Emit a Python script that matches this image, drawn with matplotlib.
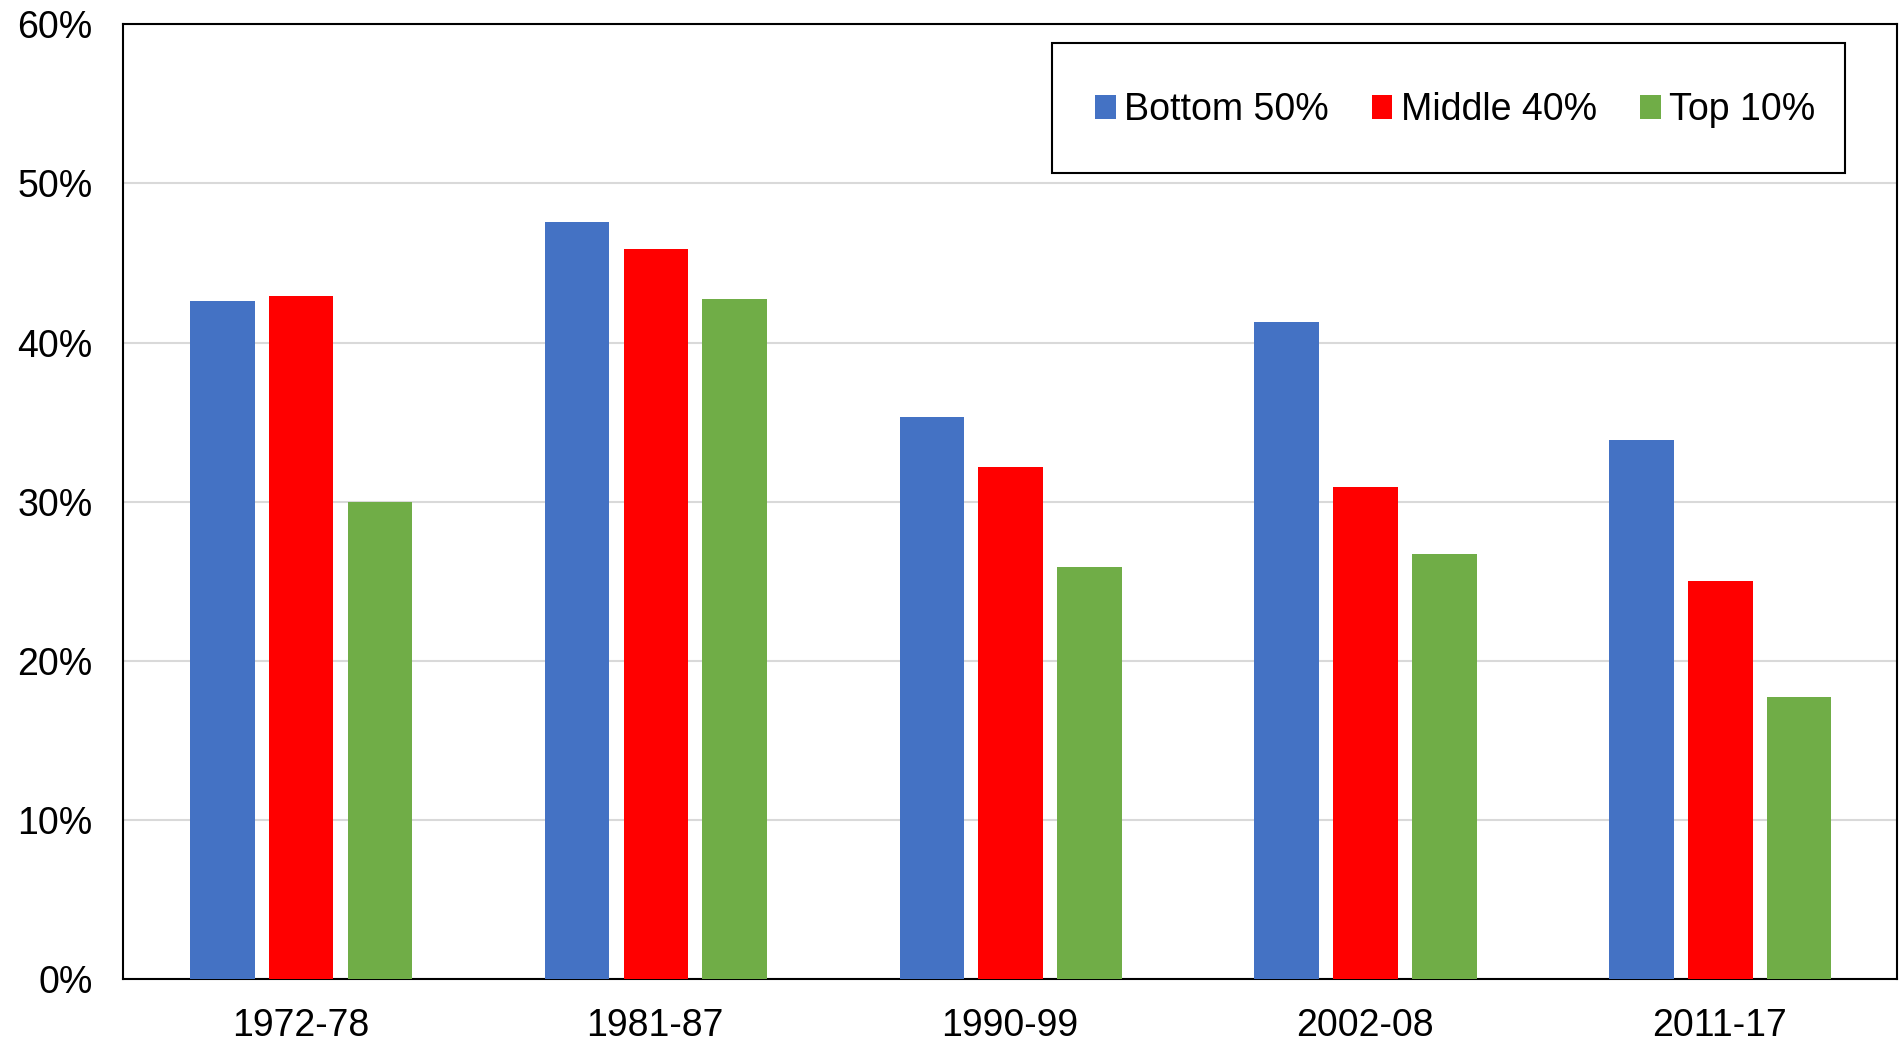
import matplotlib
matplotlib.use("Agg")
import matplotlib.pyplot as plt
import numpy as np
from matplotlib.patches import Patch, Rectangle

categories = ["1972-78", "1981-87", "1990-99", "2002-08", "2011-17"]
series_names = ["Bottom 50%", "Middle 40%", "Top 10%"]
bottom50 = [42.6, 47.6, 35.35, 41.3, 33.85]
middle40 = [42.9, 45.85, 32.15, 30.9, 25.0]
top10 = [30.0, 42.75, 25.9, 26.7, 17.75]
yticks = [0, 10, 20, 30, 40, 50, 60]
ytick_labels = ["0%", "10%", "20%", "30%", "40%", "50%", "60%"]

colors = ["#4472C4", "#FF0000", "#70AD47"]

plt.rcParams['font.family'] = ['Liberation Sans', 'DejaVu Sans']

fig = plt.figure(figsize=(19.01, 10.43), dpi=100)
ax = fig.add_axes([123/1901, 1 - 979/1043, (1897-123)/1901, (979-24.3)/1043])

x = np.arange(len(categories))
width = 0.182
pitch = 0.222
for i, (vals, name, c) in enumerate(zip([bottom50, middle40, top10], series_names, colors)):
    ax.bar(x + (i - 1) * pitch + 0.002, vals, width=width, color=c, label=name, zorder=3)

ax.set_xlim(-0.5, len(categories) - 0.5)
ax.set_ylim(0, 60)
ax.set_yticks(yticks)
ax.set_yticklabels(ytick_labels)
ax.set_xticks(x)
ax.set_xticklabels(categories)
ax.tick_params(axis='both', length=0, labelsize=27)
ax.tick_params(axis='y', pad=22)
ax.tick_params(axis='x', pad=21)
ax.yaxis.grid(True, color="#D9D9D9", linewidth=1.5, zorder=0)
ax.set_axisbelow(True)
for s in ax.spines.values():
    s.set_color("black")
    s.set_linewidth(1.5)

# legend box (frame) and legend contents
ah = 979 - 24.3
x0 = (1052 - 123) / 1774
x1 = (1845 - 123) / 1774
yt = (979 - 43) / ah
yb = (979 - 172.7) / ah
box = Rectangle((x0, yb), x1 - x0, yt - yb, transform=ax.transAxes,
                facecolor='white', edgecolor='black', linewidth=1.5, zorder=5)
ax.add_patch(box)

handles = [Patch(facecolor=c, edgecolor='none') for c in colors]
cx = (1455 - 123) / 1774
cy = (yt + yb) / 2 - 2.5 / ah
leg = ax.legend(handles, series_names, loc='center', bbox_to_anchor=(cx, cy),
                ncol=3, fontsize=27, frameon=False, borderpad=0, handlelength=0.55,
                handleheight=0.6, handletextpad=0.22, borderaxespad=0, columnspacing=1.15)
leg.set_zorder(6)

fig.savefig("out.png", dpi=100)
